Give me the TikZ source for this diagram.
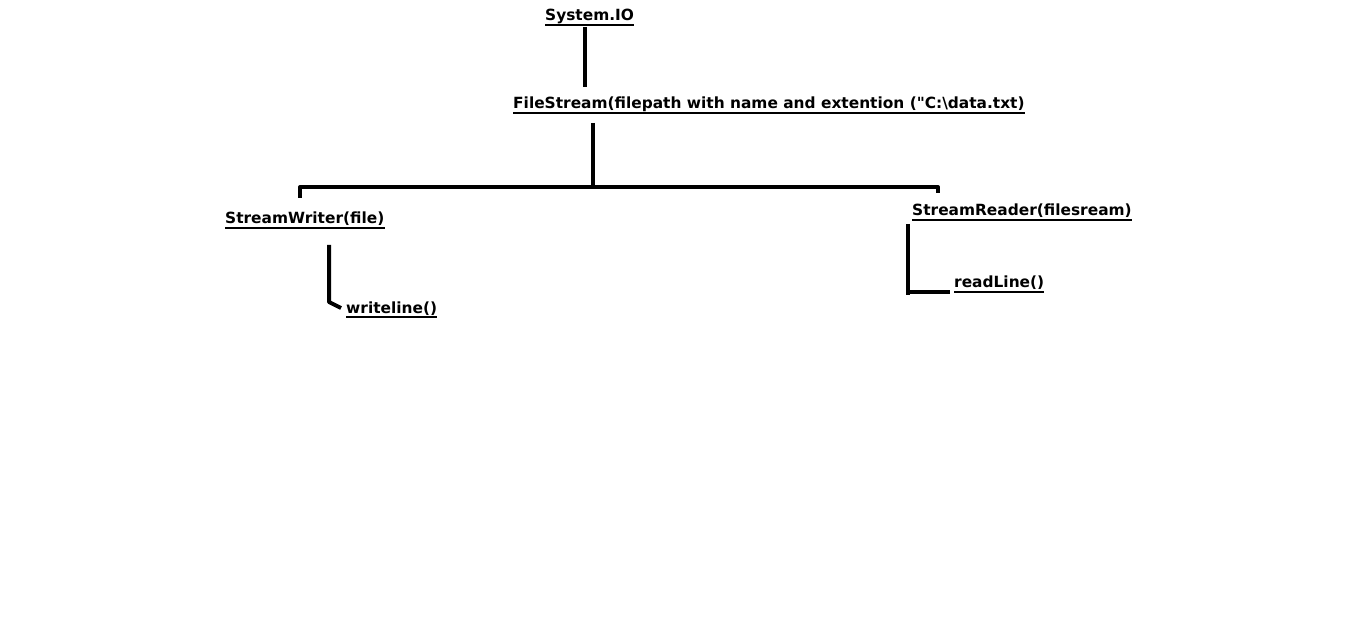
\documentclass[tikz,border=0pt]{standalone}
\usepackage{fontspec}
\setmainfont{DejaVu Sans}[Ligatures=TeXOff]
\usetikzlibrary{calc}

\tikzset{
  entry/.style={anchor=base west, inner sep=0pt,
    font=\bfseries\fontsize{15.4}{17}\selectfont,
    append after command={([yshift=-4pt]\tikzlastnode.base west)
      edge[line width=2pt] ([yshift=-4pt]\tikzlastnode.base east)}},
  link/.style={line width=4pt, line join=round},
}

\begin{document}
\begin{tikzpicture}[x=1pt, y=-1pt]
  \useasboundingbox (0,0) rectangle (1360,628);

  % classes
  \node[entry] (sys) at (545,21) {System.IO};
  \node[entry] (fs) at (513,109) {FileStream(filepath with name and extention ("C:\textbackslash data.txt)};
  \node[entry] (sw) at (225,224) {StreamWriter(file)};
  \node[entry] (sr) at (912,216) {StreamReader(filesream)};

  % methods
  \node[entry] (wl) at (346,313) {writeline()};
  \node[entry] (rl) at (954,288) {readLine()};

  % branch points
  \coordinate (split) at (593,187);
  \coordinate (wlbend) at (329,302);
  \coordinate (rlbend) at (908,292);

  % connectors
  \draw[link] (585,27) -- (585,87);
  \draw[link] (593,123) -- (split);
  \draw[link] (300,198) -- (300,187) -- (938,187) -- (938,193);
  \draw[link] (329,245) -- (wlbend) -- ($(wl.base west)+(-5,-5)$);
  \draw[link] (908,224) -- (908,295);
  \draw[link] (rlbend) -- ($(rl.base west)+(-4,4)$);
\end{tikzpicture}
\end{document}
